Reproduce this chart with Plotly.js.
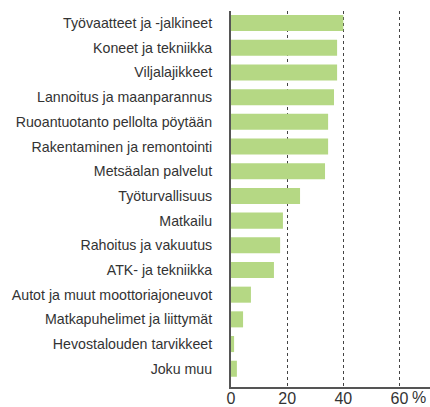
<!DOCTYPE html>
<html><head><meta charset="utf-8">
<script src="https://cdn.plot.ly/plotly-3.0.1.min.js"></script>
<style>html,body{margin:0;padding:0;background:#fff}#c{width:430px;height:407px}</style>
</head><body><div id="c"></div>
<script>
const categories = [
  "Työvaatteet ja -jalkineet",
  "Koneet ja tekniikka",
  "Viljalajikkeet",
  "Lannoitus ja maanparannus",
  "Ruoantuotanto pellolta pöytään",
  "Rakentaminen ja remontointi",
  "Metsäalan palvelut",
  "Työturvallisuus",
  "Matkailu",
  "Rahoitus ja vakuutus",
  "ATK- ja tekniikka",
  "Autot ja muut moottoriajoneuvot",
  "Matkapuhelimet ja liittymät",
  "Hevostalouden tarvikkeet",
  "Joku muu"
];
const values = [40.0, 37.8, 37.8, 36.7, 34.6, 34.6, 33.5, 24.6, 18.5, 17.5, 15.3, 7.1, 4.3, 1.1, 2.1];
const tickVals = [0, 20, 40, 60];
const tickLabels = ["0", "20", "40", "60"];

const fontFam = "'Liberation Sans Narrow', 'Arial Narrow', 'Liberation Sans', sans-serif";
const data = [{
  type: "bar", orientation: "h",
  x: values, y: categories,
  marker: {color: "#b5d884"},
  width: 0.65,
  hoverinfo: "none"
}];
const layout = {
  width: 430, height: 407,
  margin: {l: 231, r: 0, t: 11, b: 20},
  paper_bgcolor: "#fff", plot_bgcolor: "#fff",
  font: {family: fontFam, size: 14, color: "#333"},
  showlegend: false,
  bargap: 0.35,
  xaxis: {
    range: [0, 70.9], tickvals: tickVals, ticktext: tickLabels,
    showgrid: true, gridcolor: "#444", griddash: "dot", gridwidth: 1,
    zeroline: false, showline: true, linecolor: "#555", linewidth: 2,
    ticks: "", ticklabelstandoff: -4,
    tickfont: {family: fontFam, size: 16, color: "#333"},
    fixedrange: true
  },
  yaxis: {
    type: "category", range: [14.74, -0.49], autorange: false,
    showgrid: false, zeroline: false, showline: true, linecolor: "#555", linewidth: 2,
    ticks: "", ticklabelstandoff: 14,
    tickfont: {family: fontFam, size: 14.2, color: "#333"},
    fixedrange: true
  },
  annotations: [{
    xref: "x", yref: "paper", x: 60, y: 0, xanchor: "left", yanchor: "top",
    xshift: 11, yshift: 0, text: "%", showarrow: false,
    font: {family: fontFam, size: 16, color: "#333"}
  }]
};
Plotly.newPlot("c", data, layout, {displayModeBar: false, staticPlot: true});
</script></body></html>
